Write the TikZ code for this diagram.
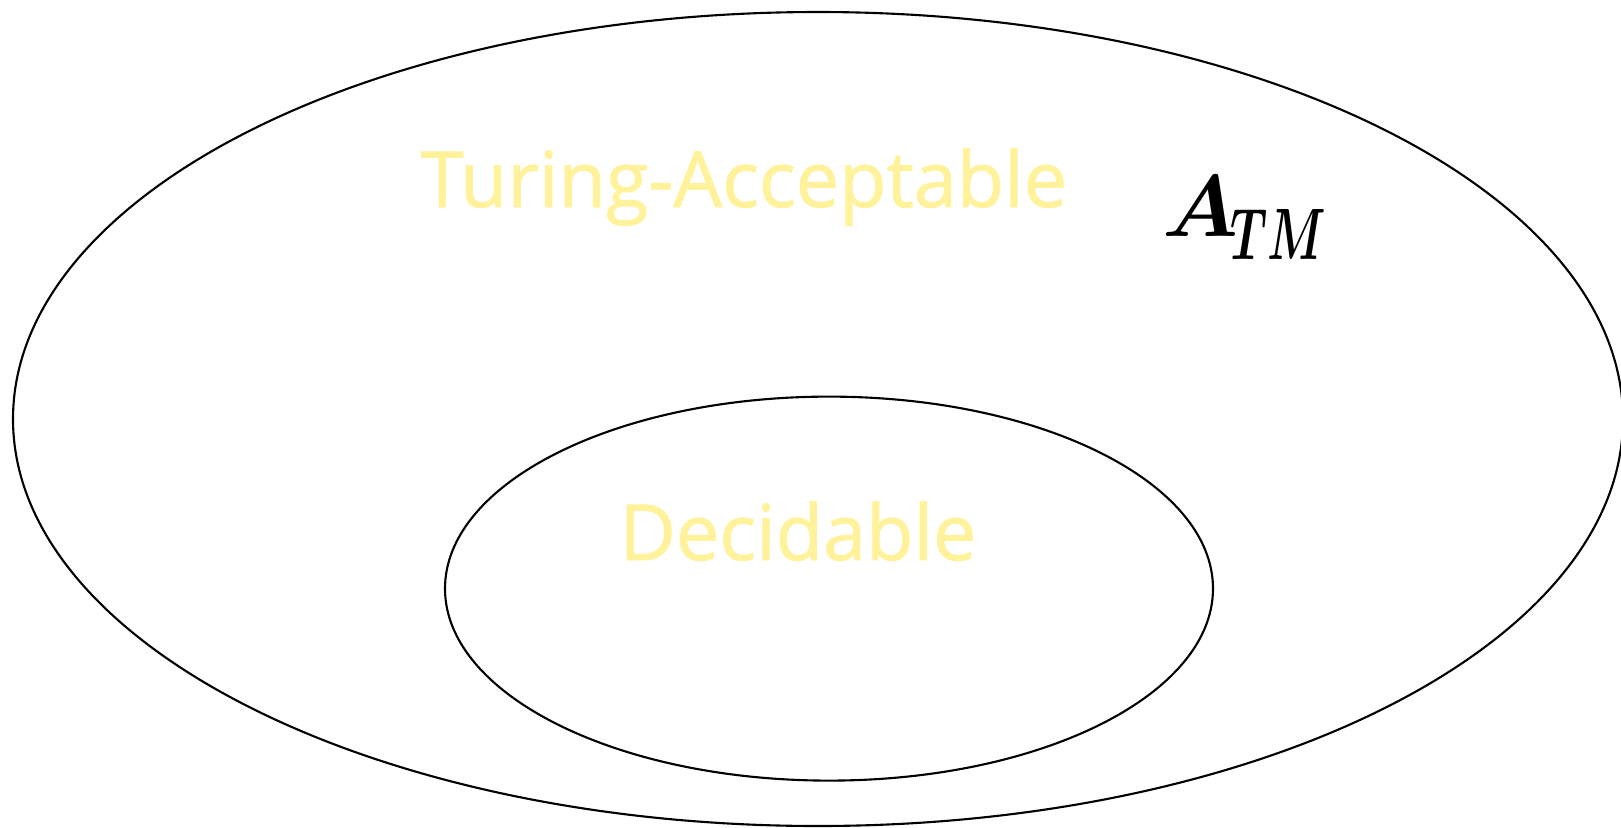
\documentclass[tikz,border=0pt]{standalone}
\usepackage{fontspec}
\setsansfont{Open Sans}[BoldFont={Open Sans},BoldFeatures={FakeBold=1.2}]
\usepackage{amsmath,bm}
\usepackage{graphicx}
\usepackage{xcolor}
\definecolor{setyellow}{HTML}{FFF29A}
\begin{document}
\begin{tikzpicture}[
  setline/.style={draw=black,line width=0.6pt},
  setlabel/.style={font=\sffamily\bfseries\fontsize{22}{26}\selectfont,text=setyellow,inner sep=0pt,anchor=base},
  member/.style={font=\fontsize{30}{34}\selectfont,inner sep=0pt,anchor=base west},
]
\useasboundingbox (0,0) rectangle (16.21,8.27);

% Turing-acceptable languages
\coordinate (tac) at (8.18,4.08);
\draw[setline] (tac) ellipse (8.05cm and 4.07cm);
\node[setlabel] (tal) at (7.44,6.20) {Turing-Acceptable};

% Decidable languages
\coordinate (dec) at (8.29,2.384);
\draw[setline] (dec) ellipse (3.84cm and 1.92cm);
\node[setlabel] (decl) at (7.98,2.67) {Decidable};

% Acceptance problem
\node[member] (atm) at (11.62,5.91)
  {$\bm{A}_{\kern-0.08cm\raisebox{-0.1cm}{\scalebox{0.64}[1]{$\scriptstyle\bm{TM}$}}}$};

\end{tikzpicture}
\end{document}
